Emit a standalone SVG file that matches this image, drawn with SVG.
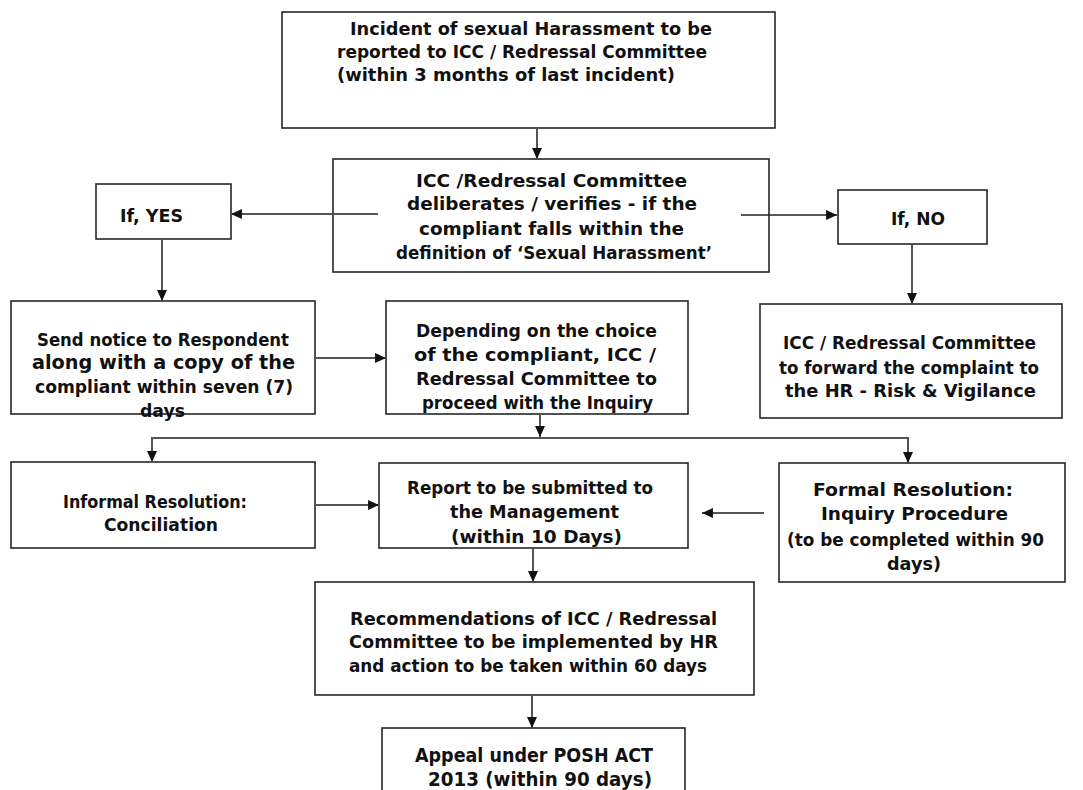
<svg xmlns="http://www.w3.org/2000/svg" width="1083" height="790" viewBox="0 0 1083 790">
<style>
  .box { fill: #ffffff; stroke: #262626; stroke-width: 1.6; }
  .v { font-family: "DejaVu Sans", Verdana, sans-serif; font-weight: bold; font-size: 17px; fill: #111; }
  .t { font-family: "DejaVu Sans Condensed", "DejaVu Sans", Tahoma, sans-serif; font-weight: bold; font-size: 17.5px; fill: #111; }
  .big { font-size: 19px; }
  .mid { font-size: 18.5px; }
  .conn { fill: none; stroke: #555555; stroke-width: 2; }
  .thin { fill: none; stroke: #222222; stroke-width: 1.3; }
</style>
<defs>
  <marker id="ah" viewBox="0 0 12 11" refX="12" refY="5.5" markerWidth="11" markerHeight="10" markerUnits="userSpaceOnUse" orient="auto">
    <path d="M0,0 L12,5.5 L0,11 z" fill="#111"/>
  </marker>
</defs>
<rect width="1083" height="790" fill="#ffffff"/>

<g id="n-incident">
  <rect class="box" x="282" y="12" width="493" height="116"/>
  <text class="v" x="350" y="35" textLength="362" lengthAdjust="spacingAndGlyphs">Incident of sexual Harassment to be</text>
  <text class="t" x="337" y="58" textLength="370" lengthAdjust="spacingAndGlyphs">reported to ICC / Redressal Committee</text>
  <text class="v" x="337" y="81" textLength="338" lengthAdjust="spacingAndGlyphs">(within 3 months of last incident)</text>
</g>

<g id="n-deliberate">
  <rect class="box" x="333" y="159" width="436" height="113"/>
  <text class="v" x="416" y="187" textLength="271" lengthAdjust="spacingAndGlyphs">ICC /Redressal Committee</text>
  <text class="v" x="407" y="210" textLength="290" lengthAdjust="spacingAndGlyphs">deliberates / verifies - if the</text>
  <text class="v" x="419" y="235" textLength="265" lengthAdjust="spacingAndGlyphs">compliant falls within the</text>
  <text class="t" x="396" y="259" textLength="316" lengthAdjust="spacingAndGlyphs">definition of ‘Sexual Harassment’</text>
</g>

<g id="n-yes">
  <rect class="box" x="96" y="184" width="135" height="55"/>
  <text class="t" x="120" y="222" textLength="63" lengthAdjust="spacingAndGlyphs">If, YES</text>
</g>

<g id="n-no">
  <rect class="box" x="838" y="190" width="149" height="54"/>
  <text class="t" x="891" y="225" textLength="54" lengthAdjust="spacingAndGlyphs">If, NO</text>
</g>

<g id="n-notice">
  <rect class="box" x="11" y="301" width="304" height="113"/>
  <text class="t" x="37" y="346" textLength="252" lengthAdjust="spacingAndGlyphs">Send notice to Respondent</text>
  <text class="v big" x="32" y="369" textLength="263" lengthAdjust="spacingAndGlyphs">along with a copy of the</text>
  <text class="t" x="35" y="393" textLength="258" lengthAdjust="spacingAndGlyphs">compliant within seven (7)</text>
  <text class="t" x="140" y="417" textLength="45" lengthAdjust="spacingAndGlyphs">days</text>
</g>

<g id="n-depending">
  <rect class="box" x="386" y="301" width="302" height="113"/>
  <text class="v mid" x="416" y="337" textLength="241" lengthAdjust="spacingAndGlyphs">Depending on the choice</text>
  <text class="v mid" x="414" y="361" textLength="242" lengthAdjust="spacingAndGlyphs">of the compliant, ICC /</text>
  <text class="v" x="416" y="385" textLength="241" lengthAdjust="spacingAndGlyphs">Redressal Committee to</text>
  <text class="t" x="422" y="409" textLength="231" lengthAdjust="spacingAndGlyphs">proceed with the Inquiry</text>
</g>

<g id="n-forward">
  <rect class="box" x="760" y="304" width="302" height="114"/>
  <text class="t" x="783" y="349" textLength="253" lengthAdjust="spacingAndGlyphs">ICC / Redressal Committee</text>
  <text class="t" x="779" y="374" textLength="260" lengthAdjust="spacingAndGlyphs">to forward the complaint to</text>
  <text class="v" x="785" y="397" textLength="251" lengthAdjust="spacingAndGlyphs">the HR - Risk &amp; Vigilance</text>
</g>

<g id="n-informal">
  <rect class="box" x="11" y="462" width="304" height="86"/>
  <text class="t" x="63" y="508" textLength="184" lengthAdjust="spacingAndGlyphs">Informal Resolution:</text>
  <text class="v" x="104" y="531" textLength="114" lengthAdjust="spacingAndGlyphs">Conciliation</text>
</g>

<g id="n-report">
  <rect class="box" x="379" y="463" width="309" height="85"/>
  <text class="t" x="407" y="494" textLength="246" lengthAdjust="spacingAndGlyphs">Report to be submitted to</text>
  <text class="v" x="450" y="518" textLength="169" lengthAdjust="spacingAndGlyphs">the Management</text>
  <text class="v" x="451" y="543" textLength="171" lengthAdjust="spacingAndGlyphs">(within 10 Days)</text>
</g>

<g id="n-formal">
  <rect class="box" x="779" y="463" width="286" height="119"/>
  <text class="v" x="813" y="496" textLength="200" lengthAdjust="spacingAndGlyphs">Formal Resolution:</text>
  <text class="v" x="821" y="520" textLength="187" lengthAdjust="spacingAndGlyphs">Inquiry Procedure</text>
  <text class="t" x="787" y="546" textLength="257" lengthAdjust="spacingAndGlyphs">(to be completed within 90</text>
  <text class="v" x="887" y="570" textLength="54" lengthAdjust="spacingAndGlyphs">days)</text>
</g>

<g id="n-recommend">
  <rect class="box" x="315" y="582" width="439" height="113"/>
  <text class="t" x="350" y="625" textLength="367" lengthAdjust="spacingAndGlyphs">Recommendations of ICC / Redressal</text>
  <text class="v" x="349" y="648" textLength="369" lengthAdjust="spacingAndGlyphs">Committee to be implemented by HR</text>
  <text class="t" x="349" y="672" textLength="358" lengthAdjust="spacingAndGlyphs">and action to be taken within 60 days</text>
</g>

<g id="n-appeal">
  <rect class="box" x="382" y="728" width="303" height="80"/>
  <text class="v big" x="415" y="762" textLength="238" lengthAdjust="spacingAndGlyphs">Appeal under POSH ACT</text>
  <text class="v big" x="428" y="786" textLength="224" lengthAdjust="spacingAndGlyphs">2013 (within 90 days)</text>
</g>

<g id="connectors">
  <line class="conn" x1="537" y1="128" x2="537" y2="159" marker-end="url(#ah)"/>
  <line class="conn" x1="378" y1="214" x2="231" y2="214" marker-end="url(#ah)"/>
  <line class="thin" x1="741" y1="215" x2="837" y2="215" marker-end="url(#ah)"/>
  <line class="conn" x1="162" y1="239" x2="162" y2="301" marker-end="url(#ah)"/>
  <line class="conn" x1="912" y1="244" x2="912" y2="304" marker-end="url(#ah)"/>
  <line class="conn" x1="315" y1="358" x2="386" y2="358" marker-end="url(#ah)"/>
  <line class="conn" x1="540" y1="414" x2="540" y2="437" marker-end="url(#ah)"/>
  <path class="conn" d="M152,452 L152,438 L908,438 L908,452"/>
  <line class="conn" x1="152" y1="440" x2="152" y2="462" marker-end="url(#ah)"/>
  <line class="conn" x1="908" y1="440" x2="908" y2="463" marker-end="url(#ah)"/>
  <line class="conn" x1="315" y1="505" x2="379" y2="505" marker-end="url(#ah)"/>
  <line class="conn" x1="764" y1="513" x2="702" y2="513" marker-end="url(#ah)"/>
  <line class="conn" x1="533" y1="548" x2="533" y2="582" marker-end="url(#ah)"/>
  <line class="conn" x1="532" y1="695" x2="532" y2="728" marker-end="url(#ah)"/>
</g>
</svg>
